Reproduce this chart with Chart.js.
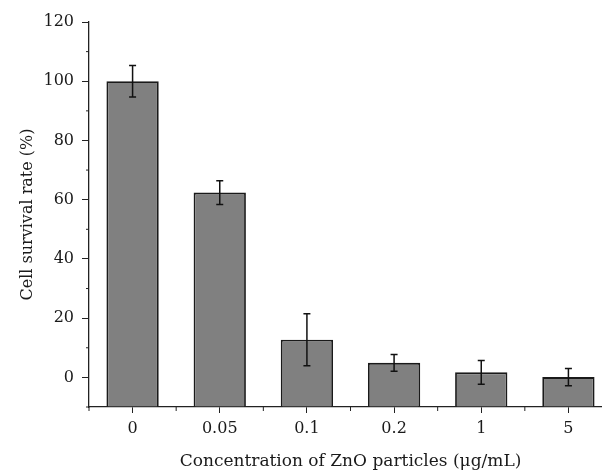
<!DOCTYPE html>
<html>
<head>
<meta charset="utf-8">
<script src="https://cdn.jsdelivr.net/npm/chart.js@4.4.1/dist/chart.umd.min.js"></script>
<style>
  html, body { margin: 0; padding: 0; overflow: hidden; background: #fff; }
  #wrap { width: 612px; height: 472px; }
</style>
</head>
<body>
<div id="wrap"><canvas id="chart" width="612" height="472"></canvas></div>
<script>
const labels = ['0', '0.05', '0.1', '0.2', '1', '5'];
const survival = [100, 62.4, 12.7, 4.9, 1.7, 0.1];
const errors = [5.3, 4.0, 8.8, 2.8, 4.0, 2.9];
const yTicks = [0, 20, 40, 60, 80, 100, 120];

const serif = "'DejaVu Serif', 'Liberation Serif', serif";

// error bars + minor ticks, all from the scales
const extras = {
  id: 'extras',
  afterDatasetsDraw(chart) {
    const ctx = chart.ctx;
    const x = chart.scales.x;
    const y = chart.scales.y;
    ctx.save();
    ctx.strokeStyle = '#111';
    ctx.lineWidth = 1.5;
    survival.forEach((v, i) => {
      const px = x.getPixelForValue(i);
      const top = y.getPixelForValue(v + errors[i]);
      const bot = y.getPixelForValue(v - errors[i]);
      ctx.beginPath();
      ctx.moveTo(px, top); ctx.lineTo(px, bot);
      ctx.moveTo(px - 3.5, top); ctx.lineTo(px + 3.5, top);
      ctx.moveTo(px - 3.5, bot); ctx.lineTo(px + 3.5, bot);
      ctx.stroke();
    });
    // minor y ticks
    ctx.lineWidth = 1;
    ctx.strokeStyle = '#222';
    for (let v = -10; v <= 120; v += 10) {
      if (v % 20 === 0) continue;
      const py = y.getPixelForValue(v);
      ctx.beginPath();
      ctx.moveTo(y.right - 3, py); ctx.lineTo(y.right, py);
      ctx.stroke();
    }
    // x boundary ticks
    const half = (x.getPixelForValue(1) - x.getPixelForValue(0)) / 2;
    for (let i = 0; i <= labels.length; i++) {
      const px = x.getPixelForValue(i) - half;
      ctx.beginPath();
      ctx.moveTo(px, x.top); ctx.lineTo(px, x.top + 4);
      ctx.stroke();
    }
    ctx.restore();
  }
};

new Chart(document.getElementById('chart'), {
  type: 'bar',
  data: {
    labels: labels,
    datasets: [{
      data: survival,
      base: -10,
      backgroundColor: '#808080',
      borderColor: '#1a1a1a',
      borderWidth: 1.8,
      categoryPercentage: 1,
      barPercentage: 0.6
    }]
  },
  options: {
    responsive: false,
    animation: false,
    layout: { padding: { top: 22, right: 0, left: 0, bottom: 0 } },
    plugins: { legend: { display: false }, tooltip: { enabled: false } },
    scales: {
      x: {
        offset: true,
        grid: { display: true, drawOnChartArea: false, offset: false, tickLength: 6, tickColor: '#222' },
        border: { display: true, color: '#222', width: 1.3 },
        ticks: { color: '#1a1a1a', padding: 6, font: { family: serif, size: 16 }, maxRotation: 0 },
        title: {
          display: true,
          text: 'Concentration of ZnO particles (\u03bcg/mL)',
          color: '#1a1a1a',
          font: { family: serif, size: 17 },
          padding: { top: 0, bottom: 0 }
        },
        afterFit: (scale) => { scale.height = 65; }
      },
      y: {
        min: -10,
        max: 120,
        afterBuildTicks: (scale) => {
          const t = [];
          for (let v = -10; v <= 120; v += 10) t.push({ value: v });
          scale.ticks = t;
        },
        grid: {
          display: true, drawOnChartArea: false, tickLength: 7,
          tickColor: (c) => (yTicks.includes(c.tick.value) ? '#222' : 'rgba(0,0,0,0)')
        },
        border: { display: true, color: '#222', width: 1.3 },
        ticks: {
          color: '#1a1a1a', padding: 8, font: { family: serif, size: 16 },
          callback: (v) => (yTicks.includes(v) ? String(v) : '')
        },
        title: {
          display: true,
          text: 'Cell survival rate (%)',
          color: '#1a1a1a',
          font: { family: serif, size: 16 },
          padding: { top: 18, bottom: 0 }
        },
        afterFit: (scale) => { scale.width = 89; }
      }
    }
  },
  plugins: [extras]
});
</script>
</body>
</html>
